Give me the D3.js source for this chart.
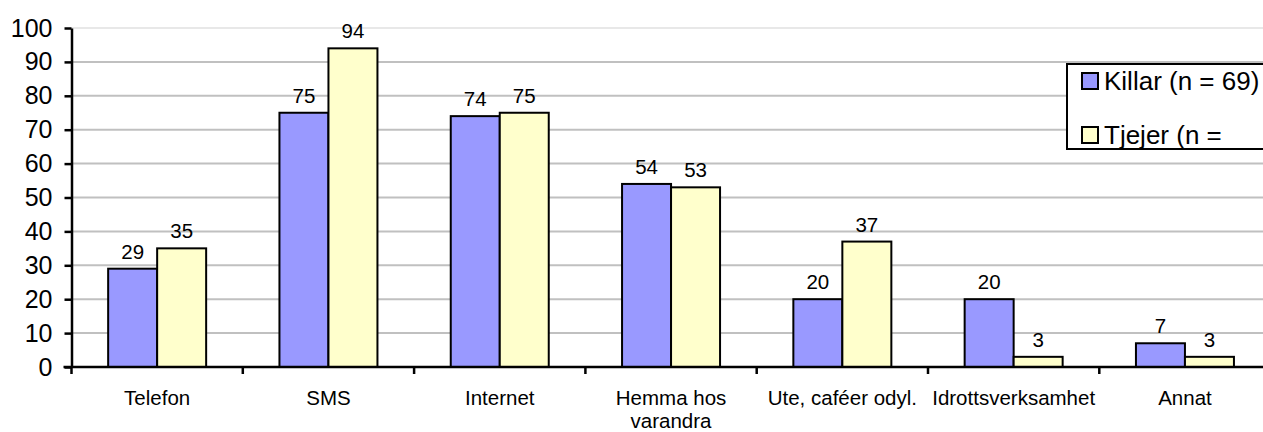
<!DOCTYPE html>
<html><head><meta charset="utf-8">
<script src="https://cdn.jsdelivr.net/npm/d3@7"></script>
<style>body{margin:0;background:#fff;overflow:hidden}svg{display:block;font-family:"Liberation Sans",Arial,sans-serif}</style>
</head><body>
<svg id="c" width="1263" height="432"></svg>
<script>
const categories = ["Telefon","SMS","Internet","Hemma hos varandra","Ute, caféer odyl.","Idrottsverksamhet","Annat"];
const categoryLines = [["Telefon"],["SMS"],["Internet"],["Hemma hos","varandra"],["Ute, caféer odyl."],["Idrottsverksamhet"],["Annat"]];
const seriesNames = ["Killar (n = 69)","Tjejer (n ="];
const killar = [29,75,74,54,20,20,7];
const tjejer = [35,94,75,53,37,3,3];
const yTicks = [0,10,20,30,40,50,60,70,80,90,100];
const colors = ["#9999ff","#ffffcc"];

(function(){
const svg = d3.select("#c");
const pLeft = 71.5, pRight = 1270.6, pTop = 28, pBottom = 367;
const x = d3.scaleBand().domain(categories).range([pLeft, pRight]).padding(0);
const x1 = d3.scaleBand().domain([0,1]).range([0, x.bandwidth()]).paddingInner(0).paddingOuter(0.748);
const y = d3.scaleLinear().domain([0,100]).range([pBottom, pTop]);

// gridlines
svg.append("g").selectAll("line").data(yTicks.filter(d=>d>0)).join("line")
  .attr("x1", pLeft).attr("x2", 1263)
  .attr("y1", d=>y(d)).attr("y2", d=>y(d))
  .attr("stroke", d=> d===100 ? "#e8e8e8" : "#c0c0c0").attr("stroke-width", 2);

// bars
const data = [killar, tjejer];
data.forEach((vals, si) => {
  svg.append("g").selectAll("rect").data(categories).join("rect")
    .attr("x", (c)=>x(c)+x1(si))
    .attr("y", (c,i)=>y(vals[i]))
    .attr("width", x1.bandwidth())
    .attr("height", (c,i)=>pBottom - y(vals[i]))
    .attr("fill", colors[si]).attr("stroke", "#000").attr("stroke-width", 2);
  svg.append("g").selectAll("text").data(categories).join("text")
    .attr("x", (c)=>x(c)+x1(si)+x1.bandwidth()/2)
    .attr("y", (c,i)=>y(vals[i]) - 10)
    .attr("text-anchor","middle").attr("font-size", 20.5).attr("fill","#000")
    .text((c,i)=>vals[i]);
});

// y axis
const yAxis = d3.axisLeft(y).tickValues(yTicks).tickSize(7).tickSizeOuter(0).tickPadding(12);
const yg = svg.append("g").attr("transform", `translate(${pLeft},0)`).call(yAxis);
yg.select(".domain").attr("stroke","#000").attr("stroke-width",2.5);
yg.selectAll(".tick line").attr("stroke","#000").attr("stroke-width",2.5);
yg.selectAll(".tick text").attr("font-size",25).attr("font-family","Liberation Sans, Arial, sans-serif").attr("fill","#000");

// x axis
const boundaries = d3.range(categories.length+1).map(i=>pLeft + i*x.step());
svg.append("line").attr("x1", pLeft-8).attr("x2", 1263).attr("y1", pBottom).attr("y2", pBottom)
  .attr("stroke","#000").attr("stroke-width",2.5);
svg.append("g").selectAll("line").data(boundaries).join("line")
  .attr("x1", d=>d).attr("x2", d=>d).attr("y1", pBottom).attr("y2", pBottom+7)
  .attr("stroke","#000").attr("stroke-width",2.5);
const cl = svg.append("g").selectAll("text").data(categories).join("text")
  .attr("x", c=>x(c)+x.bandwidth()/2).attr("y", 405)
  .attr("text-anchor","middle").attr("font-size",20.5).attr("fill","#000");
cl.each(function(c,i){
  const t = d3.select(this);
  categoryLines[i].forEach((ln,j)=>{
    t.append("tspan").attr("x", x(c)+x.bandwidth()/2).attr("dy", j===0?0:23).text(ln);
  });
});

// legend
const lg = svg.append("g");
lg.append("rect").attr("x",1067).attr("y",64).attr("width",230).attr("height",85)
  .attr("fill","#fff").attr("stroke","#000").attr("stroke-width",2);
seriesNames.forEach((s,i)=>{
  const yy = 73 + i*54;
  lg.append("rect").attr("x",1082).attr("y",yy).attr("width",16).attr("height",16)
    .attr("fill",colors[i]).attr("stroke","#000").attr("stroke-width",2);
  lg.append("text").attr("x",1104).attr("y",yy+17).attr("font-size",26).attr("fill","#000").text(s);
});
})();
</script>
</body></html>
